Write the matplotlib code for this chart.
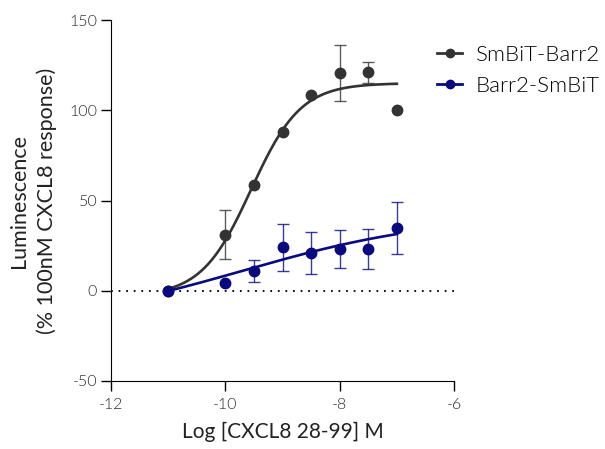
import numpy as np
import matplotlib
matplotlib.use('Agg')
import matplotlib.pyplot as plt

plt.rcParams['font.family'] = ['Lato', 'DejaVu Sans']
plt.rcParams['font.weight'] = 300
plt.rcParams['axes.unicode_minus'] = False

# 数据 (log 浓度)
log_conc = [-11, -10, -9.5, -9, -8.5, -8, -7.5, -7]

smbit_barr2 = [0, 31, 58.5, 88, 108.5, 120.5, 121, 100]
smbit_barr2_err = [0, 13.5, 0, 0, 0, 15.5, 5.7, 0]

barr2_smbit = [0, 4.2, 11, 24, 21, 23, 23, 34.7]
barr2_smbit_err = [0, 0, 6, 13, 11.7, 10.5, 11, 14.5]

# 拟合参数: bottom, top, logEC50, hill
fit_smbit_barr2 = (-3, 115, -9.55, 1.0)
fit_barr2_smbit = (-20.2, 42.3, -9.7, 0.25)

gray = '#333333'
navy = '#0a0a80'


def sigmoid(x, p):
    b, t, c, h = p
    return b + (t - b) / (1 + 10 ** ((c - x) * h))


fig = plt.figure(figsize=(6.05, 4.49), dpi=100)
ax = fig.add_axes([111 / 605, 68 / 449, 343 / 605, 361 / 449])

ax.plot([-12, -6], [0, 0], color='black', linestyle=(0, (1, 3.2)), linewidth=1.3, zorder=1)

xs = np.linspace(-11, -7, 200)
handles = []
for y, err, fit, col, lab in [
    (smbit_barr2, smbit_barr2_err, fit_smbit_barr2, gray, 'SmBiT-Barr2'),
    (barr2_smbit, barr2_smbit_err, fit_barr2_smbit, navy, 'Barr2-SmBiT'),
]:
    ax.plot(xs, sigmoid(xs, fit), color=col, linewidth=1.9, zorder=2)
    e = [v if v > 0 else np.nan for v in err]
    ax.errorbar(log_conc, y, yerr=e, fmt='none', ecolor=col, elinewidth=1,
                capsize=4, capthick=1, alpha=0.8, zorder=2)
    ax.plot(log_conc, y, 'o', color=col, markersize=7.5, zorder=3)
    h, = ax.plot([], [], '-o', color=col, markersize=6, linewidth=2, label=lab)
    handles.append(h)

ax.set_xlim(-12, -6)
ax.set_ylim(-50, 150)
ax.set_xticks([-12, -10, -8, -6])
ax.set_yticks([-50, 0, 50, 100, 150])
ax.spines['top'].set_visible(False)
ax.spines['right'].set_visible(False)
ax.tick_params(labelsize=11.5, labelcolor='#2a2a2a', length=7, width=1)
ax.tick_params(axis='x', pad=5)
ax.tick_params(axis='y', pad=3)
ax.set_xlabel('Log [CXCL8 28-99] M', fontsize=15, color='#222222', labelpad=7)
ax.set_ylabel('Luminescence\n(% 100nM CXCL8 response)', fontsize=15.5,
              color='#222222', labelpad=9, linespacing=1.4)

fig.legend(handles=handles, loc='upper left', bbox_to_anchor=(0.722, 0.90),
           frameon=False, fontsize=16, handlelength=1.15, handletextpad=0.6,
           labelspacing=0.5, borderpad=0, borderaxespad=0)

plt.savefig('out.png', dpi=100)
plt.close()
